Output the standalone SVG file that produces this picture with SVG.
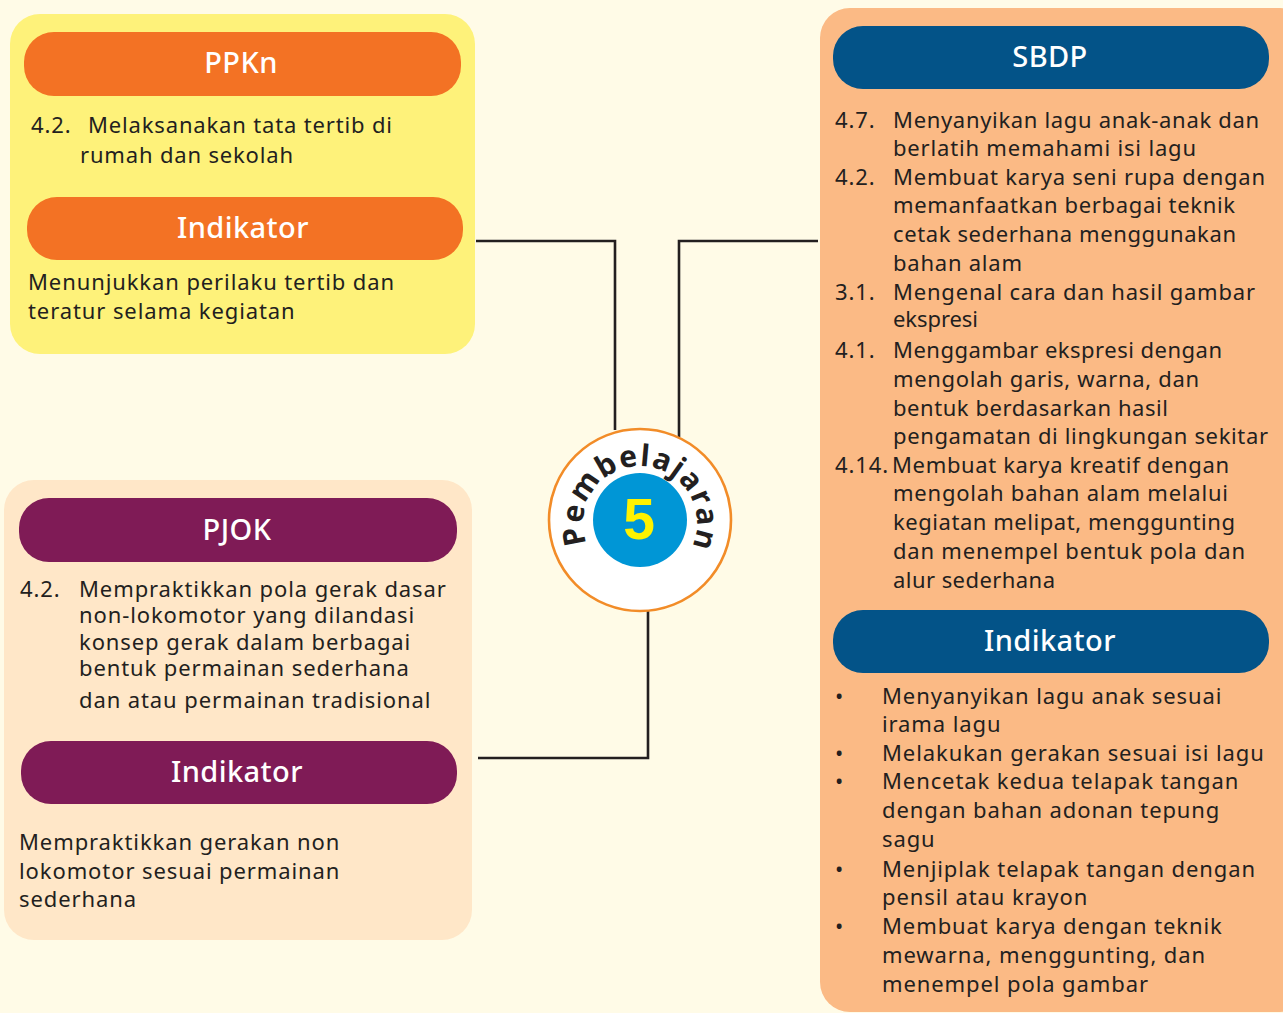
<svg xmlns="http://www.w3.org/2000/svg" width="1283" height="1013" viewBox="0 0 1283 1013">
<style>
.t{font-family:"Noto Sans","Open Sans",sans-serif;font-size:22px;fill:#231f20;letter-spacing:0.9px}
.j{letter-spacing:0}
.h{font-family:"Noto Sans","Open Sans",sans-serif;font-size:29px;font-weight:500;fill:#ffffff;text-anchor:middle;letter-spacing:0.4px}
.ln{fill:none;stroke:#231f20;stroke-width:2.6}
</style>
<defs>
<path id="arc" d="M 587 544 A 57 57 0 1 1 693 544"/>
</defs>
<rect x="0" y="0" width="1283" height="1013" fill="#fffbe7"/>

<g id="connectors">
<path class="ln" d="M476 241 H615 V430"/>
<path class="ln" d="M818 241 H679 V437"/>
<path class="ln" d="M478 758 H648 V610"/>
</g>

<g id="ppkn">
<rect x="10" y="14" width="465" height="340" rx="30" fill="#fef27a"/>
<rect x="24" y="32" width="437" height="64" rx="30" fill="#f37224"/>
<text class="h" x="241" y="73">PPKn</text>
<text class="t" x="31" y="133">4.2.</text>
<text class="t j" x="88" y="133" textLength="304" lengthAdjust="spacing">Melaksanakan tata tertib di</text>
<text class="t j" x="80" y="163" textLength="213" lengthAdjust="spacing">rumah dan sekolah</text>
<rect x="27" y="197" width="436" height="63" rx="30" fill="#f37224"/>
<text class="h" x="243" y="238">Indikator</text>
<text class="t" x="28" y="290">Menunjukkan perilaku tertib dan</text>
<text class="t" x="28" y="319">teratur selama kegiatan</text>
</g>

<g id="pjok">
<rect x="4" y="480" width="468" height="460" rx="30" fill="#ffe7c8"/>
<rect x="19" y="498" width="438" height="64" rx="30" fill="#7f1b56"/>
<text class="h" x="237" y="540">PJOK</text>
<text class="t" x="20" y="597">4.2.</text>
<text class="t" x="79" y="597">Mempraktikkan pola gerak dasar</text>
<text class="t" x="79" y="623">non-lokomotor yang dilandasi</text>
<text class="t" x="79" y="650">konsep gerak dalam berbagai</text>
<text class="t" x="79" y="676">bentuk permainan sederhana</text>
<text class="t" x="79" y="708">dan atau permainan tradisional</text>
<rect x="21" y="741" width="436" height="63" rx="30" fill="#7f1b56"/>
<text class="h" x="237" y="782">Indikator</text>
<text class="t" x="19" y="850">Mempraktikkan gerakan non</text>
<text class="t" x="19" y="879">lokomotor sesuai permainan</text>
<text class="t" x="19" y="907">sederhana</text>
</g>

<g id="sbdp">
<rect x="820" y="8" width="490" height="1004" rx="30" fill="#fbba85"/>
<rect x="833" y="26" width="436" height="63" rx="30" fill="#035388"/>
<text class="h" x="1050" y="67">SBDP</text>
<text class="t" x="835" y="128">4.7.</text>
<text class="t j" x="893" y="128" textLength="366" lengthAdjust="spacing">Menyanyikan lagu anak-anak dan</text>
<text class="t j" x="893" y="156" textLength="303" lengthAdjust="spacing">berlatih memahami isi lagu</text>
<text class="t" x="835" y="185">4.2.</text>
<text class="t j" x="893" y="185" textLength="372" lengthAdjust="spacing">Membuat karya seni rupa dengan</text>
<text class="t j" x="893" y="213" textLength="342" lengthAdjust="spacing">memanfaatkan berbagai teknik</text>
<text class="t j" x="893" y="242" textLength="343" lengthAdjust="spacing">cetak sederhana menggunakan</text>
<text class="t j" x="893" y="271" textLength="129" lengthAdjust="spacing">bahan alam</text>
<text class="t" x="835" y="300">3.1.</text>
<text class="t j" x="893" y="300" textLength="362" lengthAdjust="spacing">Mengenal cara dan hasil gambar</text>
<text class="t j" x="893" y="327" textLength="85" lengthAdjust="spacing">ekspresi</text>
<text class="t" x="835" y="358">4.1.</text>
<text class="t j" x="893" y="358" textLength="329" lengthAdjust="spacing">Menggambar ekspresi dengan</text>
<text class="t j" x="893" y="387" textLength="306" lengthAdjust="spacing">mengolah garis, warna, dan</text>
<text class="t j" x="893" y="416" textLength="275" lengthAdjust="spacing">bentuk berdasarkan hasil</text>
<text class="t j" x="893" y="444" textLength="375" lengthAdjust="spacing">pengamatan di lingkungan sekitar</text>
<text class="t" x="835" y="473">4.14.</text>
<text class="t j" x="892" y="473" textLength="337" lengthAdjust="spacing">Membuat karya kreatif dengan</text>
<text class="t j" x="893" y="501" textLength="335" lengthAdjust="spacing">mengolah bahan alam melalui</text>
<text class="t j" x="893" y="530" textLength="342" lengthAdjust="spacing">kegiatan melipat, menggunting</text>
<text class="t j" x="893" y="559" textLength="352" lengthAdjust="spacing">dan menempel bentuk pola dan</text>
<text class="t j" x="893" y="588" textLength="162" lengthAdjust="spacing">alur sederhana</text>
<rect x="833" y="610" width="436" height="63" rx="30" fill="#035388"/>
<text class="h" x="1050" y="651">Indikator</text>
<text class="t" x="835" y="704">•</text>
<text class="t" x="882" y="704">Menyanyikan lagu anak sesuai</text>
<text class="t" x="882" y="732">irama lagu</text>
<text class="t" x="835" y="761">•</text>
<text class="t" x="882" y="761">Melakukan gerakan sesuai isi lagu</text>
<text class="t" x="835" y="789">•</text>
<text class="t" x="882" y="789">Mencetak kedua telapak tangan</text>
<text class="t" x="882" y="818">dengan bahan adonan tepung</text>
<text class="t" x="882" y="847">sagu</text>
<text class="t" x="835" y="877">•</text>
<text class="t" x="882" y="877">Menjiplak telapak tangan dengan</text>
<text class="t" x="882" y="905">pensil atau krayon</text>
<text class="t" x="835" y="934">•</text>
<text class="t" x="882" y="934">Membuat karya dengan teknik</text>
<text class="t" x="882" y="963">mewarna, menggunting, dan</text>
<text class="t" x="882" y="992">menempel pola gambar</text>
</g>

<g id="pembelajaran">
<circle cx="640" cy="520" r="91" fill="#ffffff" stroke="#f28c28" stroke-width="2.6"/>
<circle cx="640" cy="520" r="47" fill="#0096d6"/>
<text font-family="Liberation Sans, Arial, sans-serif" font-weight="bold" font-size="57" fill="#fff200" text-anchor="middle" x="639" y="539">5</text>
<text font-family="Noto Sans, Open Sans, sans-serif" font-weight="bold" font-size="30" fill="#231f20" letter-spacing="1.5" text-anchor="middle"><textPath href="#arc" startOffset="51%">Pembelajaran</textPath></text>
</g>
</svg>
